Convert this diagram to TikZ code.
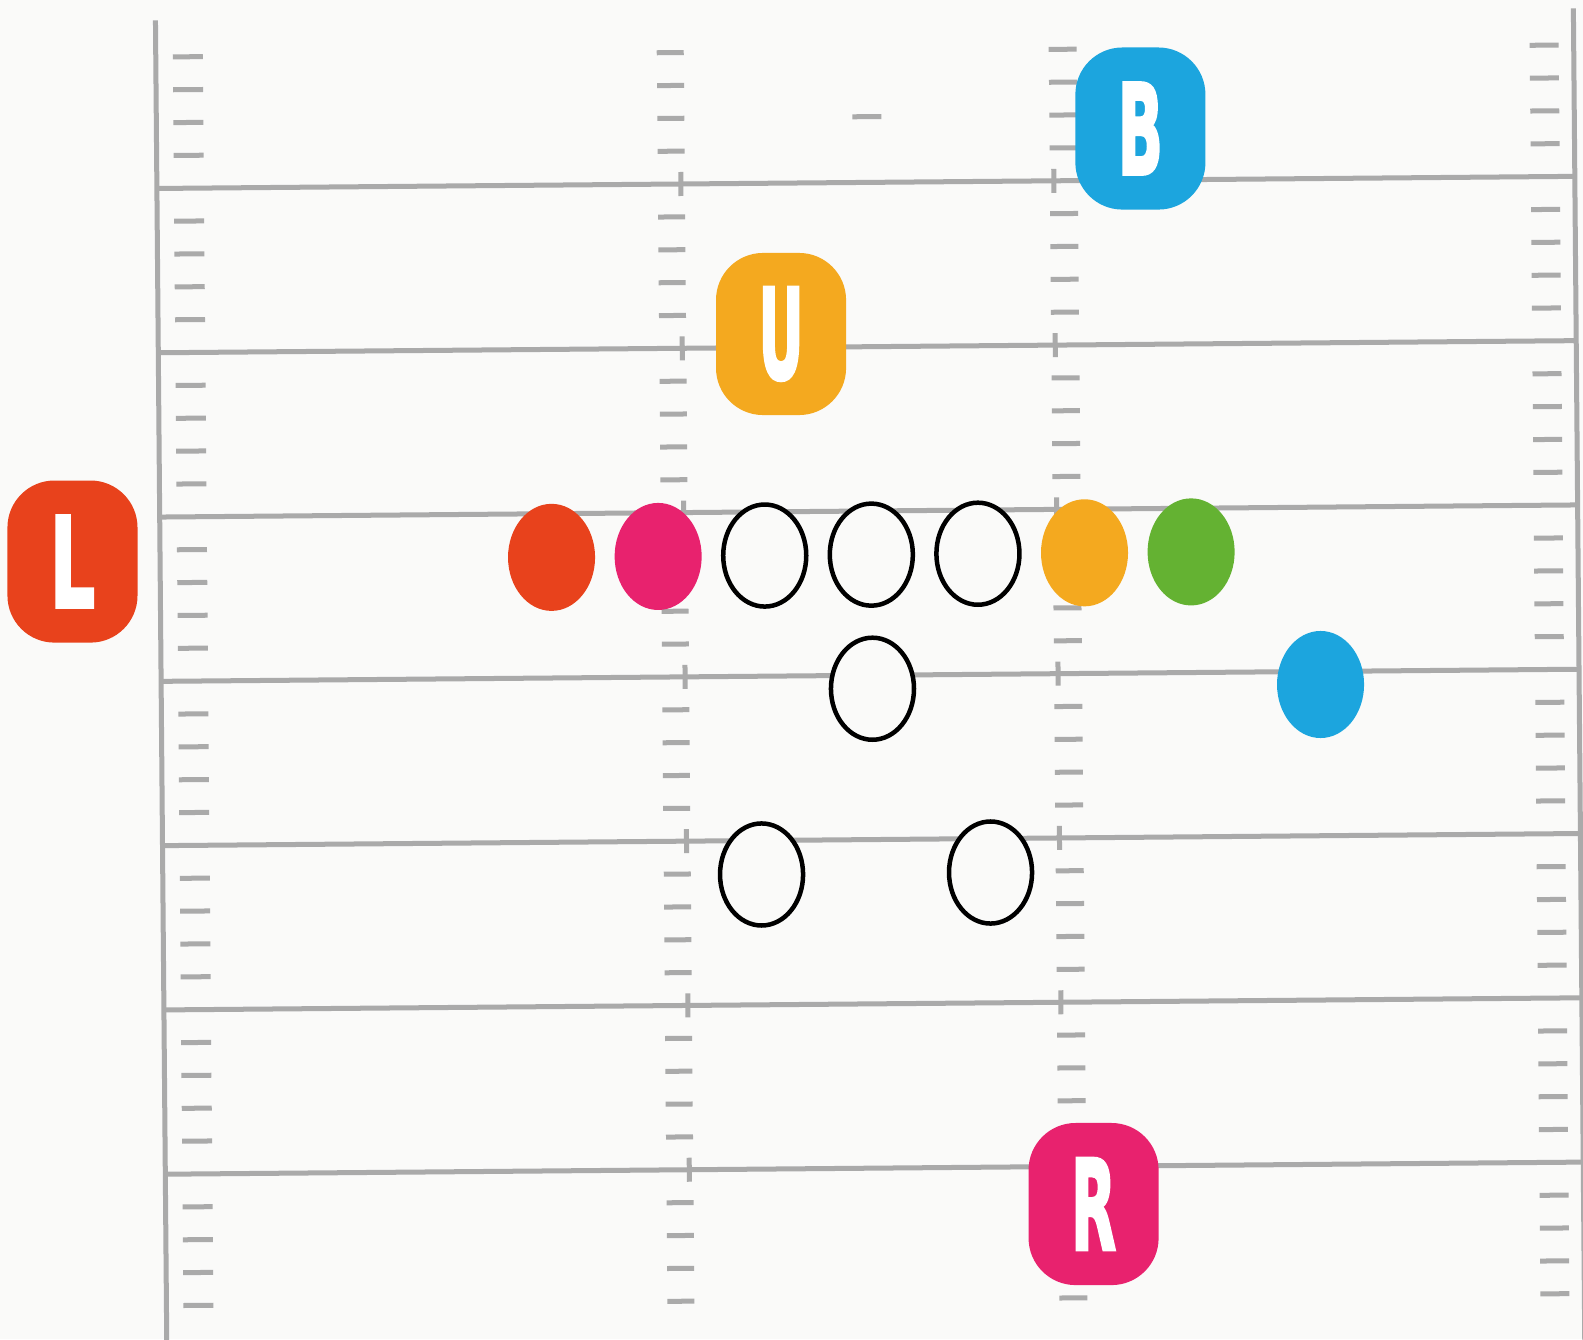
\documentclass[tikz,border=0pt]{standalone}
\usepackage{fontspec}
\usepackage{graphicx}
\newfontfamily\badgefont[BoldFeatures={FakeBold=3}]{DejaVu Sans}
\usetikzlibrary{shapes.geometric}
\definecolor{paper}{RGB}{250,250,249}
\definecolor{fieldgray}{RGB}{170,170,170}
\definecolor{redL}{RGB}{232,66,28}
\definecolor{pinkR}{RGB}{232,34,110}
\definecolor{orangeU}{RGB}{244,169,31}
\definecolor{blueB}{RGB}{28,165,222}
\definecolor{greenP}{RGB}{100,178,50}
\newcommand{\badgeletter}[1]{\resizebox{0.45cm}{0.91cm}{\badgefont\bfseries #1}}

\begin{document}
\begin{tikzpicture}[
    x=0.01cm, y=-0.01cm,
    yardline/.style={draw=fieldgray, line width=0.05cm},
    hashmark/.style={draw=fieldgray, line width=0.05cm},
    badge/.style={rectangle, rounded corners=0.47cm, minimum width=1.30cm, minimum height=1.62cm, inner sep=0pt, text=white},
    player/.style={ellipse, minimum width=0.87cm, minimum height=1.07cm, inner sep=0pt},
    openplayer/.style={ellipse, draw=black, line width=0.045cm, fill=paper, minimum width=0.83cm, minimum height=1.02cm, inner sep=0pt}
  ]
  \useasboundingbox (0,0) rectangle (1583,1339);
  \fill[paper] (0,0) rectangle (1583,1339);
  \clip (0,0) rectangle (1583,1339);

  \begin{scope}[rotate around={0.49:(791.5,669.5)}]
    % sidelines
    \draw[yardline] (161,15) -- (161,1360);
    \draw[yardline] (1579,15) -- (1579,1360);

    % yard lines and hash marks
    \foreach \k in {0,...,38} {
      \pgfmathsetmacro{\hy}{51.6+32.86*\k}
      \pgfmathtruncatemacro{\r}{mod(\k,5)}
      \ifnum\r=4
        \draw[yardline] (161,\hy) -- (1579,\hy);
        \draw[yardline] (685,\hy-12) -- (685,\hy+12);
        \draw[yardline] (1058,\hy-12) -- (1058,\hy+12);
      \else
        \foreach \xa/\xb in {178/208, 662/689, 1054/1082, 1535/1564}
          \draw[hashmark] (\xa,\hy) -- (\xb,\hy);
      \fi
    }
    \draw[hashmark] (857,117.3) -- (886,117.3);

    % line of scrimmage
    \node[player, fill=redL]    (redp)    at (552.5,555.3)  {};
    \node[player, fill=pinkR]   (pinkp)   at (659.1,555.3)  {};
    \node[openplayer]           (lt)      at (765.7,555.3)  {};
    \node[openplayer]           (ct)      at (872.3,555.3)  {};
    \node[openplayer]           (rt)      at (978.9,555.3)  {};
    \node[player, fill=orangeU] (orangep) at (1085.5,555.3) {};
    \node[player, fill=greenP]  (greenp)  at (1192.1,555.3) {};

    % backfield
    \node[openplayer]           (qb)      at (872.3,689.4)  {};
    \node[player, fill=blueB]   (bluep)   at (1320.4,689.0) {};
    \node[openplayer]           (lb)      at (759.8,874.2)  {};
    \node[openplayer]           (rb)      at (988.8,874.2)  {};

    % letter badges
    \node[badge, fill=redL]    (L) at (73.4,555.4)   {\badgeletter{L}};
    \node[badge, fill=orangeU] (U) at (783.9,333.9)  {\badgeletter{U}};
    \node[badge, fill=blueB]   (B) at (1145.0,131.5) {\badgeletter{B}};
    \node[badge, fill=pinkR]   (R) at (1089.0,1206.6) {\badgeletter{R}};
  \end{scope}
\end{tikzpicture}
\end{document}
